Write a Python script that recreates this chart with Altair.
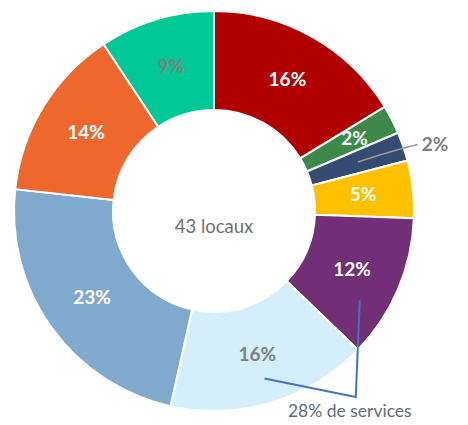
import math
import altair as alt
import pandas as pd

# ---- data (clockwise from 12 o'clock) ----
categories = ["Cat 1", "Cat 2", "Cat 3", "Cat 4", "Cat 5", "Cat 6", "Cat 7", "Cat 8", "Cat 9"]
counts = [7, 1, 1, 2, 5, 7, 10, 6, 4]
colors = ["#B00000", "#3D8A48", "#364B72", "#FFC000", "#722E77",
          "#D4EEFB", "#7FAACD", "#EE672D", "#00C896"]
label_colors = ["white", "white", "white", "white", "white",
                "#808080", "white", "white", "#808080"]
inside = [True, True, False, True, True, True, True, True, True]
center_text = "43 locaux"
bracket_text = "28% de services"

total = sum(counts)
pct = [round(c / total * 100) for c in counts]

W, H = 452, 414
CX, CY = 206, 203
R_IN, R_OUT = 101, 200

# angles
cum = 0
mids = []
for c in counts:
    mids.append((cum + c / 2) / total * 360)
    cum += c

df = pd.DataFrame({
    "idx": list(range(len(categories))),
    "cat": categories,
    "count": counts,
    "mid_rad": [math.radians(m) for m in mids],
    "lab": [f"{p}%" if s else "" for p, s in zip(pct, inside)],
    "lc": label_colors,
    "r": [158 if i == 1 else 150 for i in range(len(categories))],
})


def polar(a, r):
    t = math.radians(a)
    return CX + r * math.sin(t), CY - r * math.cos(t)


arcs = alt.Chart(df).mark_arc(innerRadius=R_IN, outerRadius=R_OUT, stroke="white", strokeWidth=2).encode(
    theta=alt.Theta("count:Q", stack=True),
    order=alt.Order("idx:Q"),
    color=alt.Color("cat:N", scale=alt.Scale(domain=categories, range=colors), legend=None),
    x=alt.value(CX), y=alt.value(CY),
)

labels = alt.Chart(df).mark_text(font="Lato", fontWeight="bold", fontSize=19, baseline="middle").encode(
    theta=alt.Theta("mid_rad:Q", stack=None, scale=None),
    radius=alt.Radius("r:Q", scale=None),
    text="lab:N",
    color=alt.Color("lc:N", scale=None),
    x=alt.value(CX), y=alt.value(CY),
)

# leader line for small slice (index 2)
s = polar(mids[2], 152)
b = polar(mids[2] + 0.5, 202)
e = (b[0] + 12, b[1] - 3)
leader_df = pd.DataFrame({"x": [s[0], b[0], e[0]], "y": [s[1], b[1], e[1]], "k": [0, 1, 2]})

# bracket: light blue label area -> corner -> purple
p1 = polar(mids[5], 175)
p3 = polar(mids[4] + 8.5, 171)
p2 = (p3[0] - 4, CY + 186)
bracket_df = pd.DataFrame({"x": [p1[0], p2[0], p3[0]], "y": [p1[1], p2[1], p3[1]], "k": [0, 1, 2]})

xs = alt.Scale(domain=[0, W], nice=False, zero=False)
ys = alt.Scale(domain=[0, H], nice=False, zero=False, reverse=True)

leader = alt.Chart(leader_df).mark_line(color="#9a9a9a", strokeWidth=1.5, interpolate="monotone").encode(
    x=alt.X("x:Q", scale=xs, axis=None), y=alt.Y("y:Q", scale=ys, axis=None), order="k:Q")
bracket = alt.Chart(bracket_df).mark_line(color="#4472C4", strokeWidth=2).encode(
    x=alt.X("x:Q", scale=xs, axis=None), y=alt.Y("y:Q", scale=ys, axis=None), order="k:Q")

out_lab = alt.Chart(pd.DataFrame({"t": [f"{pct[2]}%"]})).mark_text(
    font="Lato", fontWeight="bold", fontSize=19, color="#808080", align="left", baseline="middle"
).encode(text="t:N", x=alt.value(e[0] + 4), y=alt.value(e[1] + 1))

center = alt.Chart(pd.DataFrame({"t": [center_text]})).mark_text(
    font="Lato", fontSize=18.5, color="#6f6f6f", baseline="middle"
).encode(text="t:N", x=alt.value(CX), y=alt.value(CY + 16))

btext = alt.Chart(pd.DataFrame({"t": [bracket_text]})).mark_text(
    font="Lato", fontSize=17.5, color="#5f6a7d", baseline="middle"
).encode(text="t:N", x=alt.value(p2[0] - 6), y=alt.value(CY + 201))

chart = alt.layer(arcs, labels, leader, bracket, out_lab, center, btext).resolve_scale(
    theta="independent"
).properties(
    width=W, height=H, padding=0, autosize="none"
).configure_view(stroke=None)

chart.save("out.html", embed_options={"renderer": "svg", "actions": False})
